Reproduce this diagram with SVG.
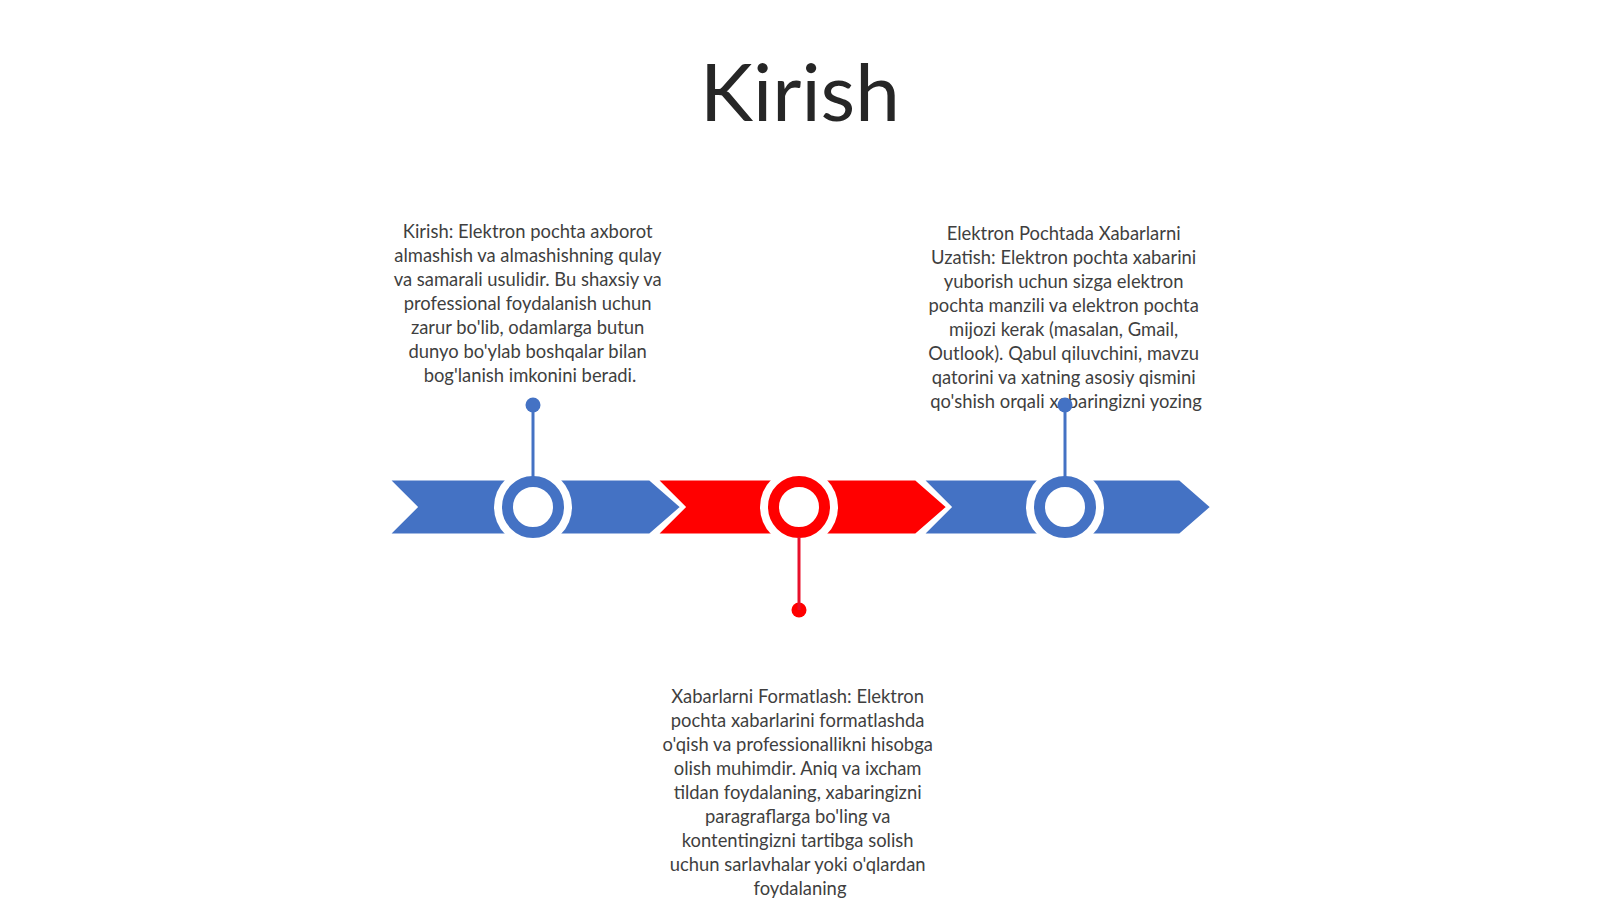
<svg xmlns="http://www.w3.org/2000/svg" width="1600" height="899" viewBox="0 0 1600 899">
<style>
.title{font-family:Lato,"Liberation Sans",sans-serif;font-size:80px;fill:#262626;text-anchor:middle}
.body{font-family:Lato,"Liberation Sans",sans-serif;font-size:18.4px;fill:#3f3f3f;text-anchor:middle}
.blue{fill:#4472C4}
.red{fill:#FF0000}
.chev{stroke:#fff;stroke-width:3;stroke-linejoin:miter}
.halo{fill:#fff}
.ringB{fill:#fff;stroke:#4472C4;stroke-width:11}
.ringR{fill:#fff;stroke:#FF0000;stroke-width:11}
.lnB{stroke:#4472C4;stroke-width:3}
.lnR{stroke:#E8102A;stroke-width:3}
</style>
<rect width="1600" height="899" fill="#fff"/>
<text class="title" x="800" y="121">Kirish</text>

<g id="band">
<polygon id="seg1" class="chev blue" points="388,479 650,479 682,507 650,535 388,535 416,507"/>
<polygon id="seg2" class="chev red" points="656,479 916,479 948,507 916,535 656,535 684,507"/>
<polygon id="seg3" class="chev blue" points="922,479 1180,479 1212,507 1180,535 922,535 950,507"/>
</g>

<g id="node1">
<circle class="halo" cx="533" cy="507" r="39"/>
<circle class="ringB" cx="533" cy="507" r="25.5"/>
<circle class="blue" cx="533" cy="405" r="7.5"/>
<text class="body" x="530" y="238">
<tspan x="530">Kirish: Elektron pochta axborot</tspan>
<tspan x="530" dy="24">almashish va almashishning qulay</tspan>
<tspan x="530" dy="24">va samarali usulidir. Bu shaxsiy va</tspan>
<tspan x="530" dy="24">professional foydalanish uchun</tspan>
<tspan x="530" dy="24">zarur bo'lib, odamlarga butun</tspan>
<tspan x="530" dy="24">dunyo bo'ylab boshqalar bilan</tspan>
<tspan x="530" dy="24">bog'lanish imkonini beradi.</tspan>
</text>
</g>

<g id="node2">
<circle class="halo" cx="799" cy="507" r="39"/>
<circle class="ringR" cx="799" cy="507" r="25.5"/>
<circle class="red" cx="799" cy="610" r="7.5"/>
<text class="body" x="800" y="703">
<tspan x="800">Xabarlarni Formatlash: Elektron</tspan>
<tspan x="800" dy="24">pochta xabarlarini formatlashda</tspan>
<tspan x="800" dy="24">o'qish va professionallikni hisobga</tspan>
<tspan x="800" dy="24">olish muhimdir. Aniq va ixcham</tspan>
<tspan x="800" dy="24">tildan foydalaning, xabaringizni</tspan>
<tspan x="800" dy="24">paragraflarga bo'ling va</tspan>
<tspan x="800" dy="24">kontentingizni tartibga solish</tspan>
<tspan x="800" dy="24">uchun sarlavhalar yoki o'qlardan</tspan>
<tspan x="800" dy="24">foydalaning</tspan>
</text>
</g>

<g id="node3">
<text class="body" x="1066" y="240">
<tspan x="1066">Elektron Pochtada Xabarlarni</tspan>
<tspan x="1066" dy="24">Uzatish: Elektron pochta xabarini</tspan>
<tspan x="1066" dy="24">yuborish uchun sizga elektron</tspan>
<tspan x="1066" dy="24">pochta manzili va elektron pochta</tspan>
<tspan x="1066" dy="24">mijozi kerak (masalan, Gmail,</tspan>
<tspan x="1066" dy="24">Outlook). Qabul qiluvchini, mavzu</tspan>
<tspan x="1066" dy="24">qatorini va xatning asosiy qismini</tspan>
<tspan x="1066" dy="24">qo'shish orqali xabaringizni yozing</tspan>
</text>
<circle class="halo" cx="1065" cy="507" r="39"/>
<circle class="ringB" cx="1065" cy="507" r="25.5"/>
<circle class="blue" cx="1065" cy="405" r="7.5"/>
</g>

<g id="connectors">
<line class="lnB" x1="533" y1="405" x2="533" y2="477"/>
<line class="lnR" x1="799" y1="537" x2="799" y2="610"/>
<line class="lnB" x1="1065" y1="405" x2="1065" y2="477"/>
</g>
</svg>
